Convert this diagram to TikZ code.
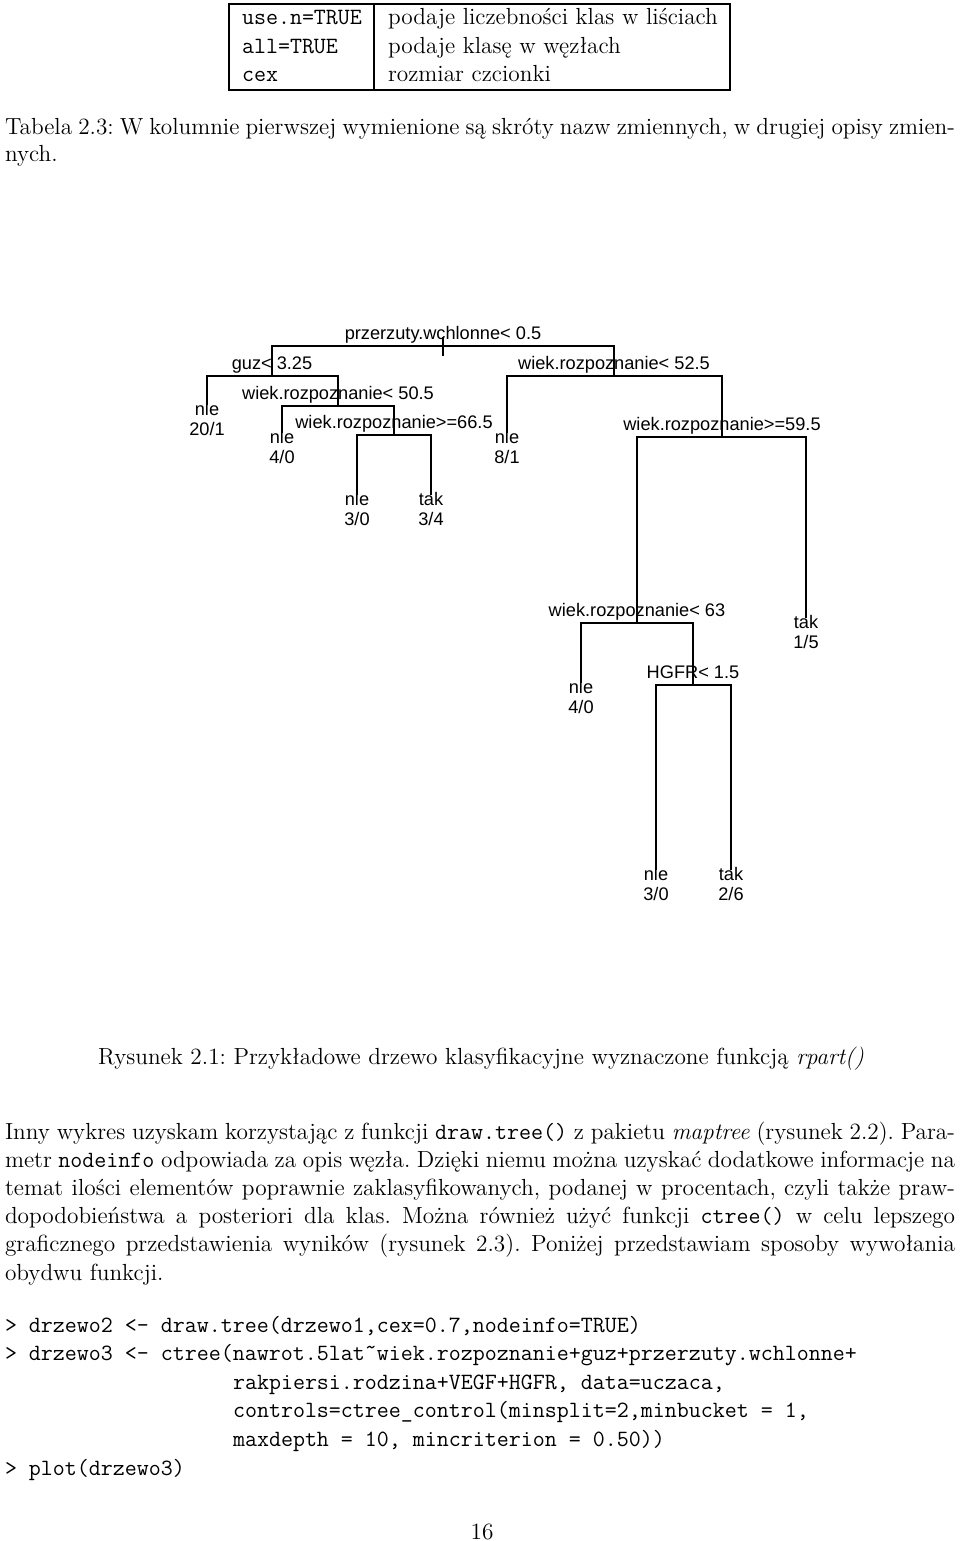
\documentclass[tikz,border=0pt]{standalone}
\usepackage{fontspec}
\newfontfamily\treefont{Liberation Sans}
\usepackage{tikz}

\begin{document}
\begin{tikzpicture}
  [x=0.5pt,y=-0.5pt,
   every node/.style={inner sep=0pt,outer sep=0pt},
   txt/.style={font=\fontsize{11.65}{14.1}\selectfont\frenchspacing,anchor=base west},
   codeln/.style={font=\fontsize{11.65}{14.1}\selectfont\ttfamily,anchor=base west},
   splitlbl/.style={font=\fontsize{9.1}{10.2}\selectfont\treefont,anchor=base},
   leaflbl/.style={font=\fontsize{9.1}{10.2}\selectfont\treefont,align=center,anchor=north},
   branch/.style={line width=0.9pt}]
  \useasboundingbox (0,0) rectangle (960,1541);

  % tabela
  \draw[line width=0.7pt] (229,4) rectangle (730,90);
  \draw[line width=0.7pt] (374,4) -- (374,90);
  \node[codeln] (k1) at (242,25)   {use.n=TRUE};
  \node[codeln] (k2) at (242,53.3) {all=TRUE};
  \node[codeln] (k3) at (242,81.6) {cex};
  \node[txt] (o1) at (388,25)   {podaje liczebności klas w liściach};
  \node[txt] (o2) at (388,53.3) {podaje klasę w węzłach};
  \node[txt] (o3) at (388,81.6) {rozmiar czcionki};
  \node[txt] (tab1) at (5,134) {\makebox[475pt][s]{Tabela 2.3: W kolumnie pierwszej wymienione są skróty nazw zmiennych, w drugiej opisy zmien-}};
  \node[txt] (tab2) at (5,162) {nych.};

  % drzewo
  \coordinate (root) at (443,346);
  \coordinate (guz)  at (272,376);
  \coordinate (w505) at (338,406);
  \coordinate (w665) at (394,435);
  \coordinate (w525) at (614,376);
  \coordinate (w595) at (722,437);
  \coordinate (w63)  at (637,623);
  \coordinate (hgfr) at (693,685);
  \coordinate (l1) at (207,405);
  \coordinate (l2) at (282,433);
  \coordinate (l3) at (357,495);
  \coordinate (l4) at (431,495);
  \coordinate (l5) at (507,433);
  \coordinate (l6) at (806,618);
  \coordinate (l7) at (581,683);
  \coordinate (l8) at (656,870);
  \coordinate (l9) at (731,870);

  \node[splitlbl] (troot) at (443,339) {przerzuty.wchlonne< 0.5};
  \node[splitlbl] (tguz)  at (272,369) {guz< 3.25};
  \node[splitlbl] (tw505) at (338,399) {wiek.rozpoznanie< 50.5};
  \node[splitlbl] (tw665) at (394,428) {wiek.rozpoznanie>=66.5};
  \node[splitlbl] (tw525) at (614,369) {wiek.rozpoznanie< 52.5};
  \node[splitlbl] (tw595) at (722,430) {wiek.rozpoznanie>=59.5};
  \node[splitlbl] (tw63)  at (637,616) {wiek.rozpoznanie< 63};
  \node[splitlbl] (thgfr) at (693,678) {HGFR< 1.5};

  \node[leaflbl] (tl1) at (207,402) {nle\\20/1};
  \node[leaflbl] (tl2) at (282,430) {nle\\4/0};
  \node[leaflbl] (tl3) at (357,492) {nle\\3/0};
  \node[leaflbl] (tl4) at (431,492) {tak\\3/4};
  \node[leaflbl] (tl5) at (507,430) {nle\\8/1};
  \node[leaflbl] (tl6) at (806,615) {tak\\1/5};
  \node[leaflbl] (tl7) at (581,680) {nle\\4/0};
  \node[leaflbl] (tl8) at (656,867) {nle\\3/0};
  \node[leaflbl] (tl9) at (731,867) {tak\\2/6};

  \draw[branch] ([yshift=4.5pt]root) -- ([yshift=-5pt]root);
  \foreach \from/\to in {root/guz,root/w525,guz/l1,guz/w505,w505/l2,w505/w665,
                         w665/l3,w665/l4,w525/l5,w525/w595,w595/w63,w595/l6,
                         w63/l7,w63/hgfr,hgfr/l8,hgfr/l9}
    \draw[branch] (\from) -| (\to);

  % tekst pod rysunkiem
  \node[txt,anchor=base] (cap) at (481,1064) {Rysunek 2.1: Przykładowe drzewo klasyfikacyjne wyznaczone funkcją \textit{rpart()}};
  \node[txt] (p1) at (5,1139) {\makebox[475pt][s]{Inny wykres uzyskam korzystając z funkcji \texttt{draw.tree()} z pakietu \textit{maptree} (rysunek 2.2). Para-}};
  \node[txt] (p2) at (5,1167.2) {\makebox[475pt][s]{metr \texttt{nodeinfo} odpowiada za opis węzła. Dzięki niemu można uzyskać dodatkowe informacje na}};
  \node[txt] (p3) at (5,1195.4) {\makebox[475pt][s]{temat ilości elementów poprawnie zaklasyfikowanych, podanej w procentach, czyli także praw-}};
  \node[txt] (p4) at (5,1223.6) {\makebox[475pt][s]{dopodobieństwa a posteriori dla klas. Można również użyć funkcji \texttt{ctree()} w celu lepszego}};
  \node[txt] (p5) at (5,1251.8) {\makebox[475pt][s]{graficznego przedstawienia wyników (rysunek 2.3). Poniżej przedstawiam sposoby wywołania}};
  \node[txt] (p6) at (5,1280) {obydwu funkcji.};

  \node[codeln] (c1) at (5,1332)   {> drzewo2 <- draw.tree(drzewo1,cex=0.7,nodeinfo=TRUE)};
  \node[codeln] (c2) at (5,1360.6) {> drzewo3 <- ctree(nawrot.5lat\char"02DC wiek.rozpoznanie+guz+przerzuty.wchlonne+};
  \node[codeln] (c3) at (233,1389.2) {rakpiersi.rodzina+VEGF+HGFR, data=uczaca,};
  \node[codeln] (c4) at (233,1417.8) {controls=ctree\_control(minsplit=2,minbucket = 1,};
  \node[codeln] (c5) at (233,1446.4) {maxdepth = 10, mincriterion = 0.50))};
  \node[codeln] (c6) at (5,1475)   {> plot(drzewo3)};

  \node[txt,anchor=base] (nr) at (482,1539) {16};
\end{tikzpicture}
\end{document}
